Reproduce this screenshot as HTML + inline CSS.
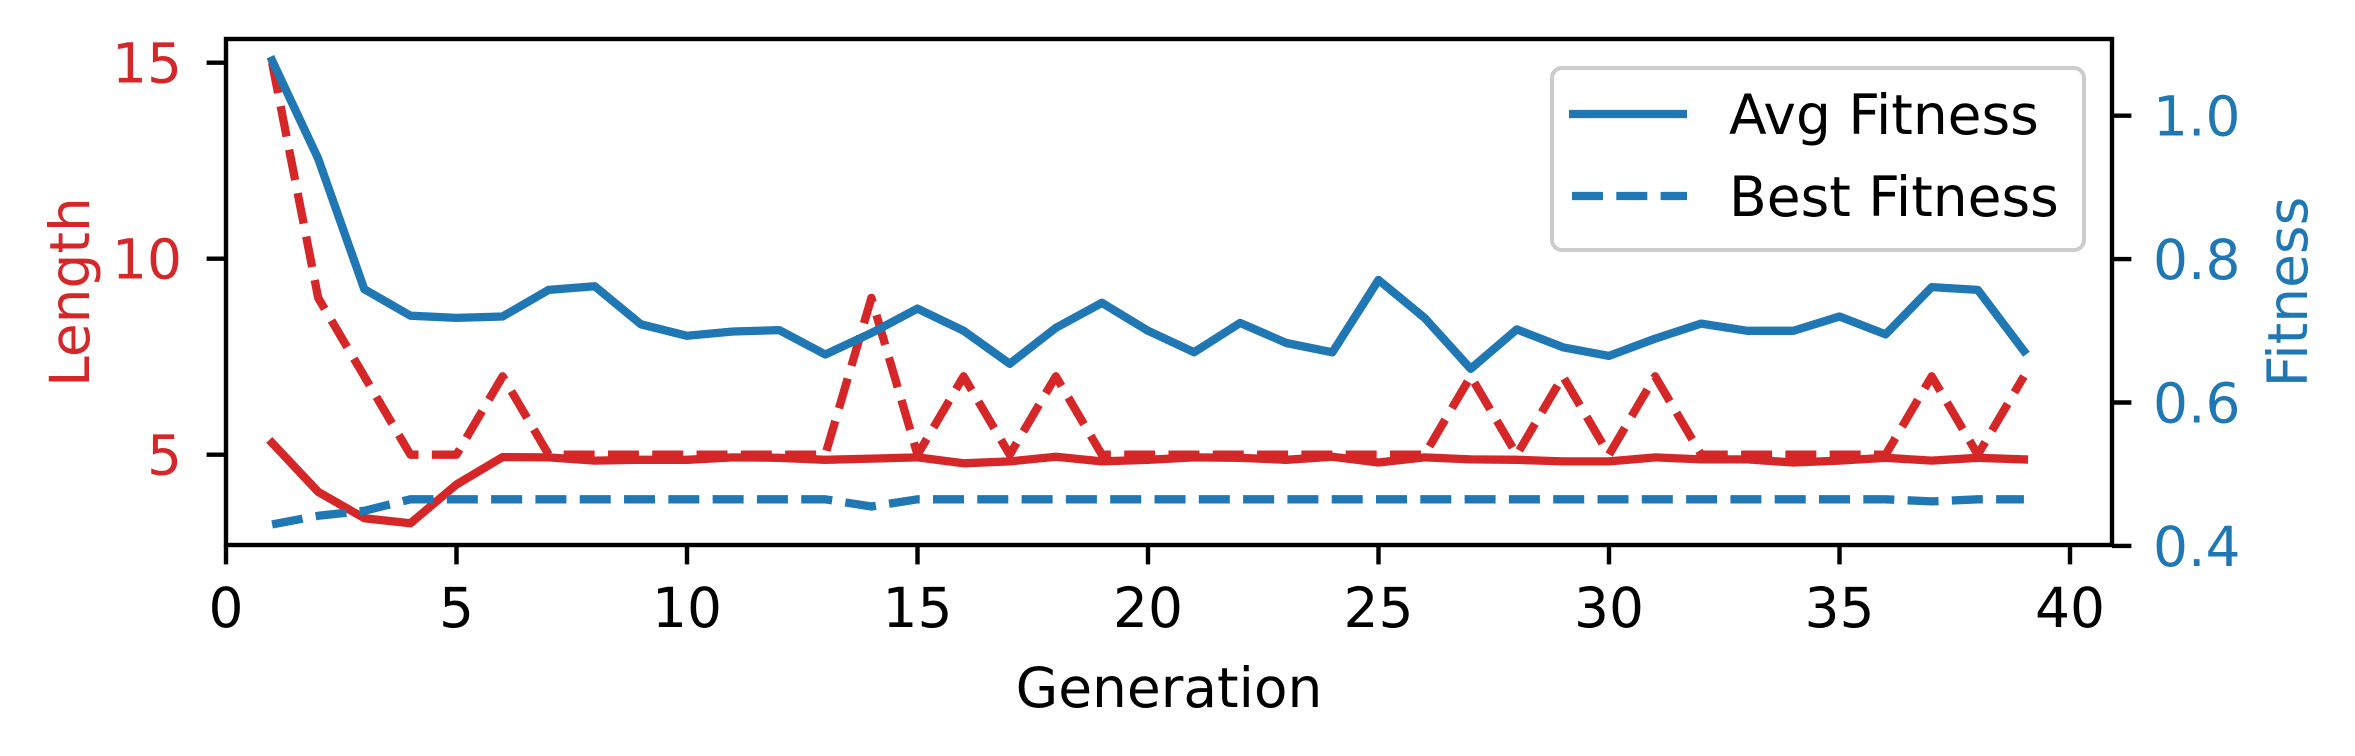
<!DOCTYPE html>
<html><head><meta charset="utf-8"><style>
html,body{margin:0;padding:0;background:#fff;}
svg{display:block;font-family:"DejaVu Sans","Liberation Sans",sans-serif;}
</style></head><body>
<svg id="chart" width="2355" height="756" viewBox="0 0 2355 756" xmlns="http://www.w3.org/2000/svg">
<g id="marks"></g>
<g id="axes"></g>
</svg>
<script>
const generations = Array.from({length:39},(_,i)=>i+1);
const avgLength = [5.3,4.05,3.38,3.25,4.24,4.94,4.93,4.85,4.87,4.87,4.93,4.92,4.87,4.9,4.93,4.78,4.83,4.95,4.83,4.87,4.93,4.92,4.87,4.95,4.8,4.93,4.88,4.87,4.83,4.83,4.93,4.88,4.88,4.8,4.85,4.92,4.85,4.92,4.88];
const bestLength = [15,9,7,5,5,7,5,5,5,5,5,5,5,9,5,7,5,7,5,5,5,5,5,5,5,5,7,5,7,5,7,5,5,5,5,5,7,5,7];
const avgFitness = [1.077,0.94,0.758,0.721,0.718,0.72,0.757,0.762,0.709,0.693,0.699,0.701,0.667,0.697,0.731,0.70,0.654,0.704,0.739,0.70,0.67,0.711,0.683,0.67,0.771,0.718,0.647,0.702,0.677,0.665,0.689,0.71,0.70,0.70,0.72,0.695,0.761,0.757,0.672];
const bestFitness = [0.43,0.442,0.449,0.465,0.465,0.465,0.465,0.465,0.465,0.465,0.465,0.465,0.465,0.455,0.465,0.465,0.465,0.465,0.465,0.465,0.465,0.465,0.465,0.465,0.465,0.465,0.465,0.465,0.465,0.465,0.465,0.465,0.465,0.465,0.465,0.465,0.462,0.465,0.465];
const xTicks = [0,5,10,15,20,25,30,35,40];
const leftTicks = [5,10,15];
const rightTicks = [0.4,0.6,0.8,1.0];

const NS="http://www.w3.org/2000/svg";
const L=226,R=2112,T=39,B=545;
const RED="#d62728",BLUE="#1f77b4";
const xs=v=>226+v*46.1;
const yl=v=>62.7+(15-v)*39.2;
const yr=v=>115.7+(1.0-v)*717;
const marks=document.getElementById('marks');
const axes=document.getElementById('axes');
function mk(tag,attrs,parent){const e=document.createElementNS(NS,tag);for(const k in attrs)e.setAttribute(k,attrs[k]);parent.appendChild(e);return e;}
function line(vals,yf,color,dashed,name){
  const d=vals.map((v,i)=>(i?'L':'M')+xs(generations[i]).toFixed(1)+','+yf(v).toFixed(1)).join(' ');
  const p=mk('path',{d:d,fill:'none',stroke:color,'stroke-width':8.3,'stroke-linejoin':'round','stroke-linecap':dashed?'butt':'square'},marks);
  if(dashed)p.setAttribute('stroke-dasharray','31 13.3');
  
  
}
line(bestLength,yl,RED,true,'best-length-line');
line(avgLength,yl,RED,false,'avg-length-line');
line(avgFitness,yr,BLUE,false,'avg-fitness-line');
line(bestFitness,yr,BLUE,true,'best-fitness-line');

const frame=mk('rect',{x:L,y:T,width:R-L,height:B-T,fill:'none',stroke:'#000','stroke-width':4.4},axes);



xTicks.forEach(v=>{
  const x=xs(v);
  mk('line',{x1:x,y1:B,x2:x,y2:B+19.4,stroke:'#000','stroke-width':4.4},axes);
  const t=mk('text',{x:x,y:627,'font-size':55,'text-anchor':'middle',fill:'#000'},axes);
  t.textContent=v;
  
  
});
leftTicks.forEach(v=>{
  const y=yl(v);
  mk('line',{x1:L-19.4,y1:y,x2:L,y2:y,stroke:'#000','stroke-width':4.4},axes);
  const t=mk('text',{x:182,y:y+20,'font-size':55,'text-anchor':'end',fill:RED},axes);
  t.textContent=v;
  
  
});
rightTicks.forEach(v=>{
  const y=yr(v);
  mk('line',{x1:R,y1:y,x2:R+19.4,y2:y,stroke:'#000','stroke-width':4.4},axes);
  const t=mk('text',{x:2153,y:y+20,'font-size':55,'text-anchor':'start',fill:BLUE},axes);
  t.textContent=v.toFixed(1);
  
  
});
const xt=mk('text',{x:1169,y:707,'font-size':55,'text-anchor':'middle',fill:'#000'},axes);
xt.textContent='Generation';


const lt=mk('text',{x:0,y:0,'font-size':55,'text-anchor':'middle',fill:RED,transform:'translate(89,292) rotate(-90)'},axes);
lt.textContent='Length';


const rt=mk('text',{x:0,y:0,'font-size':55,'text-anchor':'middle',fill:BLUE,transform:'translate(2307,292) rotate(-90)'},axes);
rt.textContent='Fitness';



const lg=mk('g',{},axes);


mk('rect',{x:1552,y:68,width:532,height:182,rx:10,fill:'#fff','fill-opacity':0.8,stroke:'#cccccc','stroke-width':4},lg);
mk('line',{x1:1569,y1:114,x2:1687,y2:114,stroke:BLUE,'stroke-width':8.3},lg);
mk('line',{x1:1572,y1:196,x2:1687,y2:196,stroke:BLUE,'stroke-width':8.3,'stroke-dasharray':'31 13.3'},lg);
const a=mk('text',{x:1729,y:134,'font-size':55,fill:'#000'},lg);
a.textContent='Avg Fitness';


const b=mk('text',{x:1729,y:216,'font-size':55,fill:'#000'},lg);
b.textContent='Best Fitness';


</script>
</body></html>
